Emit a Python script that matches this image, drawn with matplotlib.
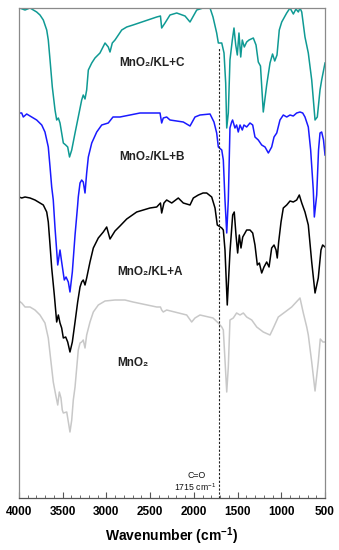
import matplotlib
matplotlib.use("Agg")
import matplotlib.pyplot as plt
from matplotlib.ticker import MultipleLocator

plt.rcParams['font.family'] = ['Liberation Sans', 'DejaVu Sans']
plt.rcParams['mathtext.fontset'] = 'custom'
plt.rcParams['mathtext.rm'] = 'Liberation Sans'
plt.rcParams['mathtext.bf'] = 'Liberation Sans:bold'

# ---- data (wavenumber cm-1, transmittance a.u., stacked) ----
wn_C = [3994, 3931, 3874, 3798, 3760, 3722, 3683, 3665, 3645, 3619, 3588, 3569, 3550, 3531, 3512, 3493,
        3466, 3443, 3422, 3397, 3359, 3322, 3283, 3265, 3245, 3226, 3207, 3168, 3131, 3074, 3016, 2979,
        2959, 2933, 2902, 2825, 2768, 2696, 2425, 2382, 2368, 2330, 2273, 2196, 2101, 2044, 1967, 1895,
        1815, 1781, 1739, 1720, 1681, 1655, 1636, 1624, 1606, 1587, 1560, 1541, 1521, 1503, 1484, 1464,
        1446, 1423, 1396, 1369, 1320, 1289, 1263, 1238, 1206, 1167, 1129, 1100, 1075, 1049, 1023, 995,
        938, 900, 862, 832, 805, 786, 766, 729, 691, 652, 614, 588, 557, 538, 500]
tr_C = [490, 488, 490, 486, 483, 478, 468, 458, 438, 411, 388, 378, 380, 375, 365, 355,
        353, 351, 341, 348, 365, 381, 398, 403, 399, 408, 428, 435, 440, 445, 455, 451,
        446, 455, 458, 468, 471, 473, 481, 482, 470, 475, 483, 485, 482, 476, 488, 490,
        490, 481, 465, 455, 455, 445, 415, 370, 385, 438, 458, 470, 453, 443, 465, 441,
        458, 451, 456, 458, 460, 453, 436, 432, 386, 413, 435, 444, 437, 443, 468, 476,
        485, 490, 484, 489, 486, 490, 486, 461, 445, 418, 378, 381, 408, 418, 435]

wn_B = [3994, 3969, 3951, 3912, 3855, 3798, 3740, 3703, 3665, 3645, 3626, 3608, 3588, 3557, 3531, 3512,
        3482, 3462, 3436, 3417, 3390, 3359, 3329, 3322, 3302, 3283, 3265, 3245, 3226, 3207, 3168, 3111,
        3054, 2979, 2925, 2845, 2730, 2616, 2467, 2387, 2368, 2350, 2311, 2273, 2121, 2044, 1987, 1930,
        1815, 1770, 1739, 1720, 1681, 1663, 1644, 1624, 1606, 1587, 1568, 1557, 1530, 1511, 1492, 1472,
        1446, 1427, 1396, 1358, 1327, 1301, 1263, 1224, 1186, 1148, 1110, 1083, 1052, 1015, 977, 938,
        900, 863, 824, 786, 755, 729, 691, 664, 634, 622, 595, 574, 557, 538, 517, 500]
tr_B = [385, 385, 381, 384, 381, 378, 373, 366, 351, 331, 311, 298, 270, 233, 248, 236,
        218, 221, 216, 206, 226, 263, 293, 301, 315, 318, 316, 305, 325, 341, 355, 366,
        373, 375, 381, 381, 383, 385, 385, 385, 375, 380, 381, 378, 376, 372, 381, 383,
        384, 376, 365, 351, 348, 338, 298, 265, 298, 370, 376, 378, 370, 373, 366, 373,
        368, 373, 371, 375, 373, 361, 358, 353, 351, 345, 351, 361, 365, 378, 383, 381,
        383, 382, 385, 386, 385, 381, 371, 348, 308, 281, 303, 348, 365, 366, 358, 343]

wn_A = [4000, 3969, 3931, 3874, 3817, 3760, 3722, 3683, 3665, 3645, 3626, 3596, 3569, 3550, 3531, 3512,
        3493, 3466, 3443, 3417, 3390, 3359, 3329, 3302, 3283, 3265, 3245, 3226, 3188, 3150, 3093, 3036,
        2997, 2959, 2902, 2845, 2768, 2654, 2502, 2425, 2382, 2368, 2342, 2311, 2253, 2178, 2121, 2044,
        2006, 1949, 1895, 1853, 1796, 1758, 1732, 1681, 1663, 1644, 1618, 1587, 1556, 1538, 1518, 1499,
        1480, 1461, 1441, 1415, 1396, 1358, 1327, 1301, 1274, 1251, 1224, 1198, 1167, 1140, 1110, 1083,
        1060, 1046, 1030, 1003, 977, 938, 900, 863, 824, 794, 766, 729, 691, 652, 614, 577, 546, 527, 500]
tr_A = [301, 300, 301, 300, 298, 295, 293, 286, 276, 253, 230, 203, 176, 183, 175, 170,
        160, 161, 156, 146, 156, 176, 196, 211, 216, 218, 213, 220, 236, 250, 260, 266,
        271, 259, 267, 272, 279, 286, 290, 291, 295, 285, 295, 298, 295, 300, 295, 293,
        300, 303, 305, 305, 301, 290, 273, 270, 268, 248, 193, 246, 283, 286, 263, 245,
        263, 250, 261, 265, 268, 268, 265, 253, 233, 235, 225, 231, 236, 231, 250, 253,
        248, 240, 256, 276, 290, 293, 297, 296, 298, 303, 295, 286, 273, 236, 205, 220, 248, 253, 251]

wn_M = [4000, 3969, 3931, 3874, 3817, 3760, 3703, 3665, 3634, 3608, 3580, 3557, 3539, 3520, 3505, 3493,
        3454, 3417, 3397, 3379, 3359, 3322, 3302, 3283, 3265, 3245, 3226, 3188, 3150, 3093, 3016, 2902,
        2788, 2696, 2425, 2382, 2368, 2350, 2311, 2082, 2025, 1987, 1930, 1781, 1720, 1681, 1663, 1644,
        1624, 1606, 1587, 1549, 1511, 1472, 1434, 1396, 1338, 1281, 1206, 1129, 1091, 1034, 957, 881,
        786, 748, 709, 691, 652, 614, 577, 554, 524, 500]
tr_M = [197, 195, 191, 191, 188, 183, 175, 160, 136, 116, 103, 93, 106, 100, 88, 85,
        86, 66, 78, 98, 111, 148, 155, 156, 158, 150, 163, 176, 186, 193, 197, 198,
        198, 196, 191, 191, 188, 186, 188, 183, 176, 180, 183, 180, 175, 171, 168, 138,
        106, 131, 178, 180, 185, 183, 185, 181, 178, 171, 166, 163, 170, 181, 186, 191,
        200, 185, 171, 163, 136, 107, 136, 159, 156, 156]

series = [
    (wn_C, tr_C, '#0f9a94', 'MnO\u2082/KL+C', 2480, 435),
    (wn_B, tr_B, '#1a1aff', 'MnO\u2082/KL+B', 2480, 341),
    (wn_A, tr_A, '#000000', 'MnO\u2082/KL+A', 2500, 226),
    (wn_M, tr_M, '#c8c8c8', 'MnO\u2082', 2700, 135),
]
co_wn = 1715
x_ticks = [4000, 3500, 3000, 2500, 2000, 1500, 1000, 500]

fig = plt.figure(figsize=(3.39, 5.50), dpi=100)
ax = fig.add_axes([19/339, 52/550, 306/339, 490/550])

for wn, tr, col, lab, lx, ly in series:
    ax.plot(wn, tr, color=col, lw=1.1, solid_joinstyle='round')
    ax.text(lx, ly, lab, ha='center', va='center', fontsize=8.5, fontweight='bold', color='#222222')

ax.vlines(co_wn, 0, 451, colors='#222222', linestyles=(0, (2, 1.5)), lw=0.8)
ax.text(1967, 22, 'C=O', ha='center', va='center', fontsize=6.3, color='#111111')
ax.text(1745, 11, r'1715 cm$^{-1}$', ha='right', va='center', fontsize=6.3, color='#111111')

ax.set_xlim(4000, 500)
ax.set_ylim(0, 490)
ax.set_xticks(x_ticks)
ax.xaxis.set_minor_locator(MultipleLocator(100))
ax.set_yticks([])
ax.tick_params(axis='x', which='major', direction='in', length=4, width=0.8, color='#555555',
               labelsize=8.5, pad=6)
ax.tick_params(axis='x', which='minor', direction='in', length=2, width=0.6, color='#555555')
for lbl in ax.get_xticklabels():
    lbl.set_fontweight('bold')
for s in ax.spines.values():
    s.set_color('#8a8a8a')
    s.set_linewidth(0.9)
ax.spines['bottom'].set_color('#555555')
ax.set_xlabel(r'Wavenumber (cm$^{\mathbf{-1}}$)', fontsize=10, fontweight='bold', labelpad=5)

fig.savefig('out.png', dpi=100)
